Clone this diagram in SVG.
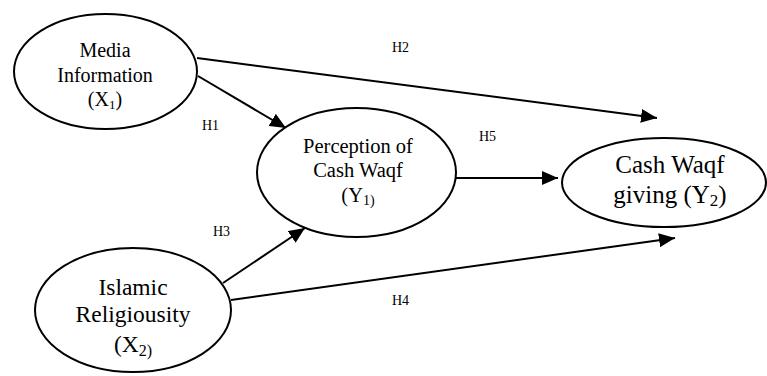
<svg xmlns="http://www.w3.org/2000/svg" width="767" height="376" viewBox="0 0 767 376">
<defs>
<marker id="ah" markerWidth="8" markerHeight="7" refX="8" refY="3.5" orient="auto" markerUnits="strokeWidth">
<path d="M0,0 L8,3.5 L0,7 Z" fill="#000"/>
</marker>
<style>
.node{fill:#fff;stroke:#000;stroke-width:2}
.t{font-family:"Liberation Serif","Times New Roman",serif;fill:#000;text-anchor:middle}
.h{font-family:"Liberation Serif","Times New Roman",serif;fill:#000;font-size:14px}
.c{stroke:#000;stroke-width:2;fill:none;marker-end:url(#ah)}
</style>
</defs>
<rect width="767" height="376" fill="#fff"/>
<g id="connectors">
<line class="c" x1="197" y1="58" x2="657" y2="118"/>
<line class="c" x1="198" y1="76" x2="286" y2="128"/>
<line class="c" x1="456" y1="178" x2="558" y2="178"/>
<line class="c" x1="223" y1="283" x2="305" y2="228"/>
<line class="c" x1="231" y1="300" x2="675" y2="238"/>
<text class="h" x="392" y="52">H2</text>
<text class="h" x="202" y="130">H1</text>
<text class="h" x="479" y="141">H5</text>
<text class="h" x="213" y="236">H3</text>
<text class="h" x="392" y="305">H4</text>
</g>
<g id="media">
<ellipse class="node" cx="105.5" cy="71.5" rx="91.5" ry="57.5"/>
<text class="t" font-size="20" x="105" y="57">Media</text>
<text class="t" font-size="20" x="105" y="82">Information</text>
<text class="t" font-size="20" x="105" y="106">(X<tspan font-size="13" dy="3">1</tspan><tspan dy="-3">)</tspan></text>
</g>
<g id="perception">
<ellipse class="node" cx="356.5" cy="172.5" rx="99.5" ry="64.5"/>
<text class="t" font-size="20.5" x="358" y="153">Perception of</text>
<text class="t" font-size="20.5" x="358" y="177">Cash Waqf</text>
<text class="t" font-size="20.5" x="358" y="202">(Y<tspan font-size="14" dy="3">1)</tspan></text>
</g>
<g id="giving">
<ellipse class="node" cx="664" cy="182.5" rx="102" ry="44.5"/>
<text class="t" font-size="25" x="670" y="173">Cash Waqf</text>
<text class="t" font-size="25" x="670" y="203">giving (Y<tspan font-size="17" dy="3">2</tspan><tspan dy="-3">)</tspan></text>
</g>
<g id="islamic">
<ellipse class="node" cx="133" cy="310" rx="98" ry="62"/>
<text class="t" font-size="23.5" x="133" y="295">Islamic</text>
<text class="t" font-size="23.5" x="133" y="322">Religiousity</text>
<text class="t" font-size="23.5" x="133" y="352">(X<tspan font-size="16" dy="4">2)</tspan></text>
</g>
</svg>
